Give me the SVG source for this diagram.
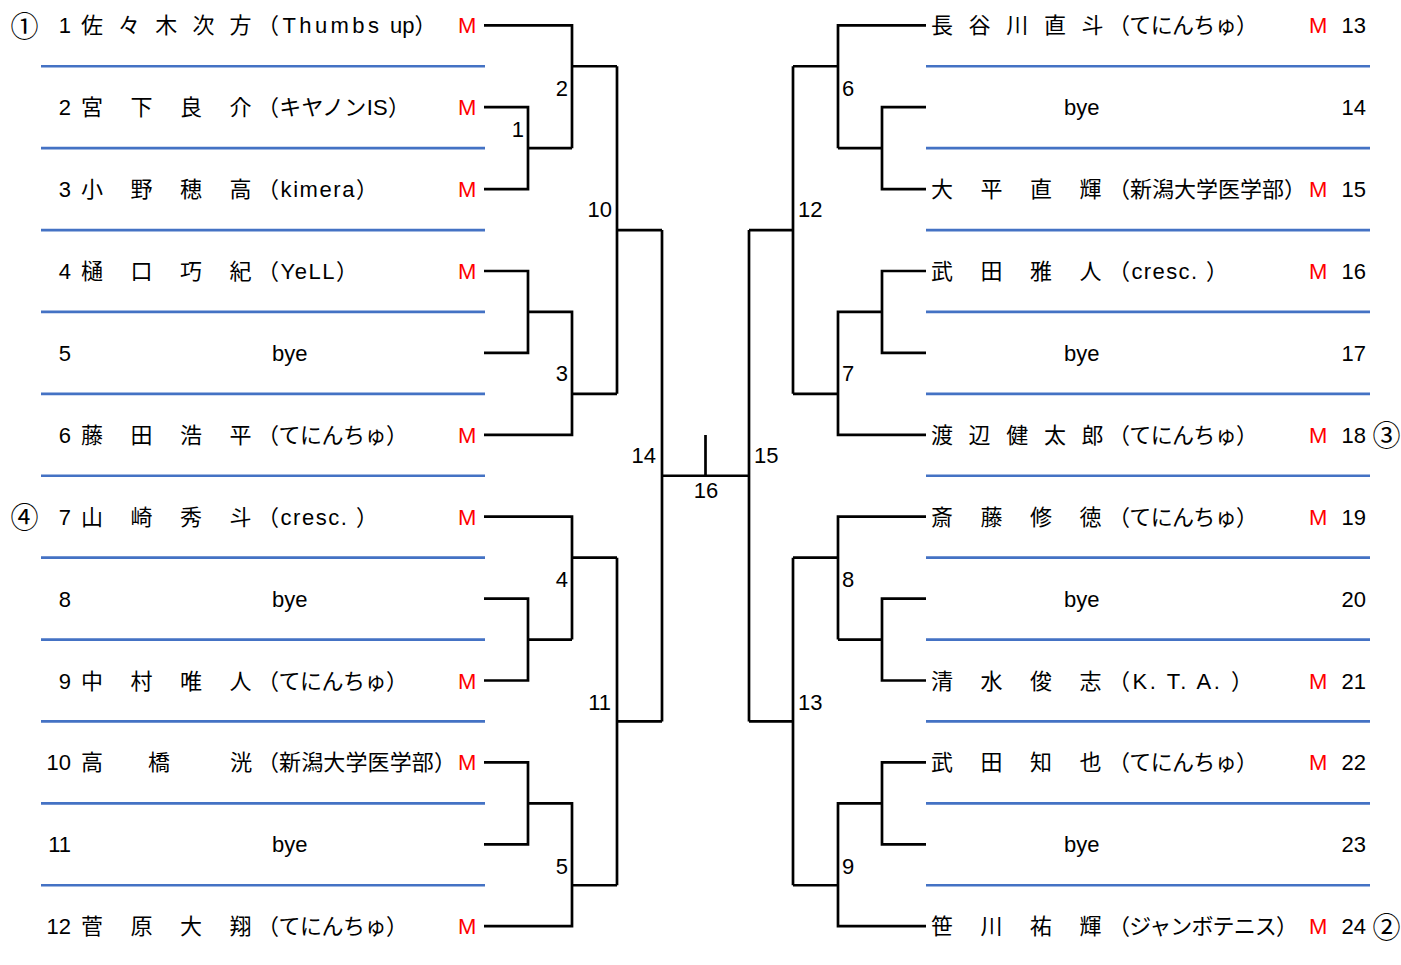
<svg xmlns="http://www.w3.org/2000/svg" width="1401" height="965" viewBox="0 0 1401 965">
<style>
.t{font-family:"Liberation Sans","Noto Sans CJK JP",sans-serif;font-size:22px;fill:#000}
.j{font-family:"Noto Sans CJK JP",sans-serif;font-size:22px;fill:#000}
.c{font-family:"Noto Sans CJK JP",sans-serif;font-size:28px;fill:#000;text-anchor:middle}
.m{fill:#FF0000}
.e{text-anchor:end}
.mid{text-anchor:middle}
.sep{stroke:#4472C4;stroke-width:2.7;fill:none}
.br{stroke:#000;stroke-width:2.7;fill:none;stroke-linejoin:miter;stroke-linecap:butt}
</style>
<rect width="1401" height="965" fill="#fff"/>
<g id="separators" class="sep">
<path d="M41 66.25H485M41 148.15H485M41 230.05H485M41 311.95H485M41 393.85H485M41 475.75H485M41 557.65H485M41 639.55H485M41 721.45H485M41 803.35H485M41 885.25H485"/>
<path d="M926 66.25H1370M926 148.15H1370M926 230.05H1370M926 311.95H1370M926 393.85H1370M926 475.75H1370M926 557.65H1370M926 639.55H1370M926 721.45H1370M926 803.35H1370M926 885.25H1370"/>
</g>
<g id="connectors" class="br">
<path d="M484 25.3H572V148.15M484 107.2H528V189.1H484M528 148.15H572M572 66.25H617"/>
<path d="M484 271H528V352.9H484M528 311.95H572V434.8H484M572 393.85H617"/>
<path d="M617 66.25V393.85M617 230.05H662"/>
<path d="M484 516.7H572V639.55M484 598.6H528V680.5H484M528 639.55H572M572 557.65H617"/>
<path d="M484 762.4H528V844.3H484M528 803.35H572V926.2H484M572 885.25H617"/>
<path d="M617 557.65V885.25M617 721.45H662"/>
<path d="M662 230.05V721.45M662 475.75H749M705.5 435V475.75M749 230.05V721.45"/>
<path d="M926 25.3H838V148.15M926 107.2H882V189.1H926M882 148.15H838M838 66.25H793"/>
<path d="M926 271H882V352.9H926M882 311.95H838V434.8H926M838 393.85H793"/>
<path d="M793 66.25V393.85M793 230.05H749"/>
<path d="M926 516.7H838V639.55M926 598.6H882V680.5H926M882 639.55H838M838 557.65H793"/>
<path d="M926 762.4H882V844.3H926M882 803.35H838V926.2H926M838 885.25H793"/>
<path d="M793 557.65V885.25M793 721.45H749"/>
</g>
<g id="match-labels" class="t">
<text x="568" y="96" class="e">2</text>
<text x="524" y="137" class="e">1</text>
<text x="612" y="217" class="e">10</text>
<text x="568" y="381" class="e">3</text>
<text x="656" y="463" class="e">14</text>
<text x="568" y="587" class="e">4</text>
<text x="611" y="710" class="e">11</text>
<text x="568" y="874" class="e">5</text>
<text x="706" y="498" class="mid">16</text>
<text x="842" y="96">6</text>
<text x="798" y="217">12</text>
<text x="842" y="381">7</text>
<text x="754" y="463">15</text>
<text x="842" y="587">8</text>
<text x="798" y="710">13</text>
<text x="842" y="874">9</text>
</g>
<g id="p1"><text class="c" x="24.5" y="36.5">①</text><text class="t e" x="71" y="33.3">1</text><text class="j" x="81 118.1 155.25 192.4 229.5" y="33.3">佐々木次方</text><text class="t" x="257" y="33.3" textLength="122" lengthAdjust="spacing">（Thumbs</text><text class="t" x="390" y="33.3">up）</text><text class="t m" x="458" y="33.3">M</text></g>
<g id="p2"><text class="t e" x="71" y="115.2">2</text><text class="j" x="81 130.5 180 229.5" y="115.2">宮下良介</text><text class="t" x="257" y="115.2" textLength="153" lengthAdjust="spacing">（キヤノンIS）</text><text class="t m" x="458" y="115.2">M</text></g>
<g id="p3"><text class="t e" x="71" y="197.1">3</text><text class="j" x="81 130.5 180 229.5" y="197.1">小野穂高</text><text class="t" x="257" y="197.1" textLength="121" lengthAdjust="spacing">（kimera）</text><text class="t m" x="458" y="197.1">M</text></g>
<g id="p4"><text class="t e" x="71" y="279">4</text><text class="j" x="81 130.5 180 229.5" y="279">樋口巧紀</text><text class="t" x="257" y="279" textLength="101" lengthAdjust="spacing">（YeLL）</text><text class="t m" x="458" y="279">M</text></g>
<g id="p5"><text class="t e" x="71" y="360.9">5</text><text class="t" x="272" y="360.9">bye</text></g>
<g id="p6"><text class="t e" x="71" y="442.8">6</text><text class="j" x="81 130.5 180 229.5" y="442.8">藤田浩平</text><text class="t" x="257" y="442.8" textLength="151" lengthAdjust="spacing">（てにんちゅ）</text><text class="t m" x="458" y="442.8">M</text></g>
<g id="p7"><text class="c" x="24.5" y="528">④</text><text class="t e" x="71" y="524.7">7</text><text class="j" x="81 130.5 180 229.5" y="524.7">山崎秀斗</text><text class="t" x="257" y="524.7" textLength="121" lengthAdjust="spacing">（cresc. ）</text><text class="t m" x="458" y="524.7">M</text></g>
<g id="p8"><text class="t e" x="71" y="606.6">8</text><text class="t" x="272" y="606.6">bye</text></g>
<g id="p9"><text class="t e" x="71" y="688.5">9</text><text class="j" x="81 130.5 180 229.5" y="688.5">中村唯人</text><text class="t" x="257" y="688.5" textLength="151" lengthAdjust="spacing">（てにんちゅ）</text><text class="t m" x="458" y="688.5">M</text></g>
<g id="p10"><text class="t e" x="71" y="770.4">10</text><text class="j" x="81 148 230" y="770.4">高橋洸</text><text class="t" x="257" y="770.4" textLength="199" lengthAdjust="spacing">（新潟大学医学部）</text><text class="t m" x="458" y="770.4">M</text></g>
<g id="p11"><text class="t e" x="71" y="852.3">11</text><text class="t" x="272" y="852.3">bye</text></g>
<g id="p12"><text class="t e" x="71" y="934.2">12</text><text class="j" x="81 130.5 180 229.5" y="934.2">菅原大翔</text><text class="t" x="257" y="934.2" textLength="151" lengthAdjust="spacing">（てにんちゅ）</text><text class="t m" x="458" y="934.2">M</text></g>
<g id="p13"><text class="j" x="931 968.6 1006.3 1043.9 1081.5" y="33.3">長谷川直斗</text><text class="t" x="1108" y="33.3" textLength="150" lengthAdjust="spacing">（てにんちゅ）</text><text class="t m" x="1309" y="33.3">M</text><text class="t e" x="1366" y="33.3">13</text></g>
<g id="p14"><text class="t" x="1064" y="115.2">bye</text><text class="t e" x="1366" y="115.2">14</text></g>
<g id="p15"><text class="j" x="931 980.5 1030 1079.5" y="197.1">大平直輝</text><text class="t" x="1108" y="197.1" textLength="198" lengthAdjust="spacing">（新潟大学医学部）</text><text class="t m" x="1309" y="197.1">M</text><text class="t e" x="1366" y="197.1">15</text></g>
<g id="p16"><text class="j" x="931 980.5 1030 1079.5" y="279">武田雅人</text><text class="t" x="1108" y="279" textLength="120" lengthAdjust="spacing">（cresc. ）</text><text class="t m" x="1309" y="279">M</text><text class="t e" x="1366" y="279">16</text></g>
<g id="p17"><text class="t" x="1064" y="360.9">bye</text><text class="t e" x="1366" y="360.9">17</text></g>
<g id="p18"><text class="j" x="931 968.6 1006.3 1043.9 1081.5" y="442.8">渡辺健太郎</text><text class="t" x="1108" y="442.8" textLength="150" lengthAdjust="spacing">（てにんちゅ）</text><text class="t m" x="1309" y="442.8">M</text><text class="t e" x="1366" y="442.8">18</text><text class="c" x="1386.5" y="446">③</text></g>
<g id="p19"><text class="j" x="931 980.5 1030 1079.5" y="524.7">斎藤修徳</text><text class="t" x="1108" y="524.7" textLength="150" lengthAdjust="spacing">（てにんちゅ）</text><text class="t m" x="1309" y="524.7">M</text><text class="t e" x="1366" y="524.7">19</text></g>
<g id="p20"><text class="t" x="1064" y="606.6">bye</text><text class="t e" x="1366" y="606.6">20</text></g>
<g id="p21"><text class="j" x="931 980.5 1030 1079.5" y="688.5">清水俊志</text><text class="t" x="1108" y="688.5" textLength="145" lengthAdjust="spacing">（K. T. A. ）</text><text class="t m" x="1309" y="688.5">M</text><text class="t e" x="1366" y="688.5">21</text></g>
<g id="p22"><text class="j" x="931 980.5 1030 1079.5" y="770.4">武田知也</text><text class="t" x="1108" y="770.4" textLength="150" lengthAdjust="spacing">（てにんちゅ）</text><text class="t m" x="1309" y="770.4">M</text><text class="t e" x="1366" y="770.4">22</text></g>
<g id="p23"><text class="t" x="1064" y="852.3">bye</text><text class="t e" x="1366" y="852.3">23</text></g>
<g id="p24"><text class="j" x="931 980.5 1030 1079.5" y="934.2">笹川祐輝</text><text class="t" x="1108" y="934.2" textLength="190" lengthAdjust="spacing">（ジャンボテニス）</text><text class="t m" x="1309" y="934.2">M</text><text class="t e" x="1366" y="934.2">24</text><text class="c" x="1386.5" y="937.5">②</text></g>
</svg>
